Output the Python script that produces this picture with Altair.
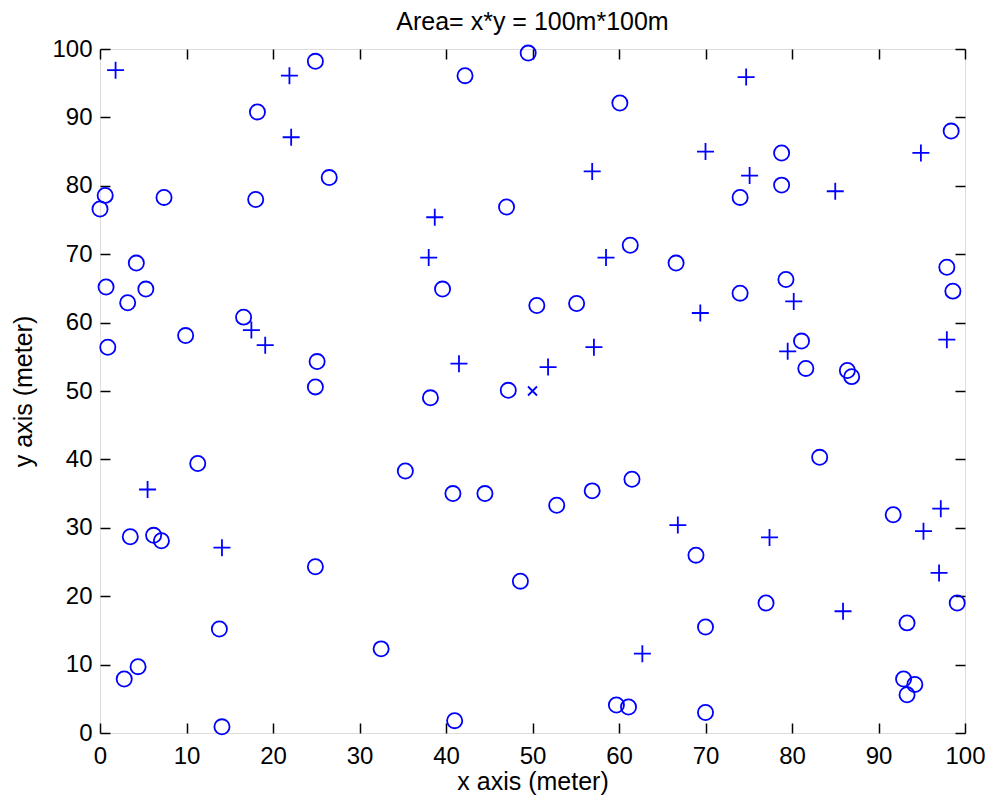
import altair as alt
import pandas as pd

# Circle nodes
circle_x = [0.0, 0.6, 0.7, 0.9, 3.2, 4.2, 5.3, 7.4, 9.9, 16.6, 18.0, 18.2, 24.9, 26.5,
            25.1, 24.9, 42.2, 39.6, 38.2,
            49.5, 60.1, 47.0, 78.8, 78.8, 74.0, 98.4, 61.3, 66.6, 97.9, 98.6, 50.5,
            55.1, 74.0, 79.3, 81.1, 81.6, 86.4, 86.9, 47.2,
            11.3, 3.5, 6.2, 7.1, 24.9, 13.8, 32.5, 2.8, 4.4, 14.1, 41.0, 35.3, 40.8, 44.5,
            83.2, 61.5, 56.9, 52.8, 91.7, 68.9, 48.6, 77.0, 99.1, 93.3, 70.0, 92.9,
            94.2, 93.3, 59.7, 61.1, 70.0]
circle_y = [76.6, 78.6, 65.2, 56.4, 62.9, 68.7, 64.9, 78.3, 58.1, 60.8, 78.0, 90.8, 98.2, 81.2,
            54.3, 50.6, 96.1, 64.9, 49.0,
            99.4, 92.1, 76.9, 84.8, 80.1, 78.3, 88.0, 71.3, 68.7, 68.1, 64.6, 62.5,
            62.8, 64.3, 66.3, 57.3, 53.3, 53.0, 52.1, 50.1,
            39.4, 28.7, 28.9, 28.1, 24.3, 15.2, 12.3, 7.9, 9.7, 0.9, 1.8, 38.3, 35.0, 35.0,
            40.3, 37.1, 35.4, 33.3, 31.9, 26.0, 22.2, 19.0, 19.0, 16.1, 15.5, 7.9,
            7.1, 5.6, 4.1, 3.8, 3.0]

# Plus nodes
plus_x = [1.8, 21.9, 22.1, 38.7, 38.0, 17.5, 19.1, 41.5,
          74.7, 70.0, 56.9, 75.1, 94.9, 85.0, 58.5, 69.4, 80.2, 79.5, 97.9, 57.1, 51.8,
          5.5, 14.1,
          97.2, 95.2, 66.8, 77.4, 97.0, 85.9, 62.7]
plus_y = [96.9, 96.1, 87.1, 75.4, 69.5, 58.9, 56.7, 54.0,
          95.9, 85.0, 82.1, 81.5, 84.8, 79.2, 69.5, 61.4, 63.1, 55.8, 57.5, 56.4, 53.5,
          35.6, 27.1,
          32.8, 29.5, 30.4, 28.6, 23.4, 17.8, 11.6]

# Centre (sink)
center_x = [50.0]
center_y = [50.0]

tick_values = list(range(0, 101, 10))

circles = pd.DataFrame({"x": circle_x, "y": circle_y})
pluses = pd.DataFrame({"x": plus_x, "y": plus_y})
center = pd.DataFrame({"x": center_x, "y": center_y})

BLUE = "#0000ff"
FONT = "Liberation Sans"

xscale = alt.Scale(domain=[0, 100], nice=False, zero=False)
yscale = alt.Scale(domain=[0, 100], nice=False, zero=False)

common_axis = dict(values=tick_values, grid=False, domain=False, tickSize=10,
                   offset=-10, tickColor="black", tickWidth=1.5,
                   labelFont=FONT, labelFontSize=24, labelColor="black",
                   titleFont=FONT, titleFontSize=25, titleColor="black",
                   titleFontWeight="normal")

x_bottom = alt.Axis(orient="bottom", title="x axis (meter)", labelPadding=11,
                    titlePadding=1, labelFlush=False, **common_axis)
y_left = alt.Axis(orient="left", title="y axis (meter)", labelPadding=8,
                  titlePadding=15, labelFlush=False, **common_axis)
x_top = alt.Axis(orient="top", labels=False, title=None, **common_axis)
y_right = alt.Axis(orient="right", labels=False, title=None, **common_axis)

circle_layer = alt.Chart(circles).mark_point(
    shape="circle", filled=False, color=BLUE, size=230, strokeWidth=1.8, opacity=1
).encode(
    x=alt.X("x:Q", scale=xscale, axis=x_bottom),
    y=alt.Y("y:Q", scale=yscale, axis=y_left),
)

plus_layer = alt.Chart(pluses).mark_point(
    shape="M-1,0L1,0M0,-1L0,1", filled=False, color=BLUE, size=289,
    strokeWidth=1.8, opacity=1
).encode(
    x=alt.X("x:Q", scale=xscale, axis=None),
    y=alt.Y("y:Q", scale=yscale, axis=None),
)

center_layer = alt.Chart(center).mark_point(
    shape="M-1,-1L1,1M1,-1L-1,1", filled=False, color=BLUE, size=81,
    strokeWidth=1.8, opacity=1
).encode(
    x=alt.X("x:Q", scale=xscale, axis=x_top),
    y=alt.Y("y:Q", scale=yscale, axis=y_right),
)

chart = alt.layer(circle_layer, plus_layer, center_layer).resolve_axis(
    x="independent", y="independent"
).properties(
    width=865,
    height=684,
    autosize=alt.AutoSizeParams(type="none"),
    padding={"left": 92, "top": 41, "right": 20, "bottom": 63},
    title=alt.TitleParams("Area= x*y = 100m*100m", font=FONT, fontSize=25,
                          fontWeight="normal", color="black", anchor="middle",
                          offset=2),
).configure_view(
    stroke="black", strokeWidth=2
).configure(background="white")

chart.save("out.html", embed_options={"renderer": "svg", "actions": False})
